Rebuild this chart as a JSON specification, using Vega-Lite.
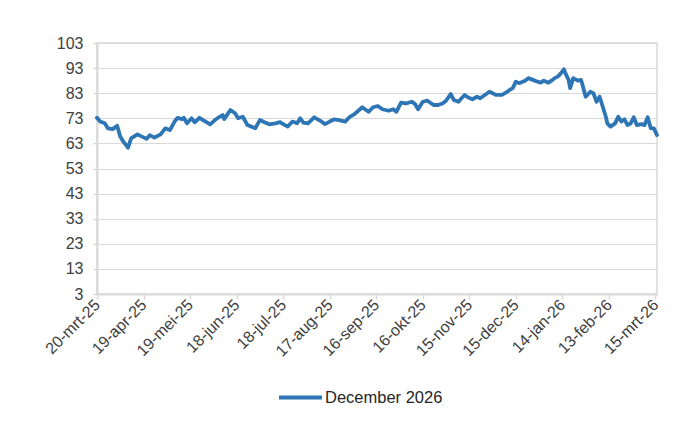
{
  "$schema": "https://vega.github.io/schema/vega-lite/v6.json",
  "autosize": {"type": "none"},
  "width": 560,
  "height": 251,
  "padding": {"left": 97, "top": 43, "right": 43, "bottom": 136},
  "background": "white",
  "config": {
    "font": "Liberation Sans",
    "view": {"stroke": "#d9d9d9", "strokeWidth": 1.5}
  },
  "data": {
    "values": [
      {"date": "2025-03-20", "value": 73.2},
      {"date": "2025-03-22", "value": 71.7},
      {"date": "2025-03-25", "value": 71.0},
      {"date": "2025-03-27", "value": 69.0},
      {"date": "2025-03-30", "value": 68.7},
      {"date": "2025-04-02", "value": 70.0},
      {"date": "2025-04-04", "value": 65.7},
      {"date": "2025-04-06", "value": 63.7},
      {"date": "2025-04-09", "value": 61.3},
      {"date": "2025-04-11", "value": 65.0},
      {"date": "2025-04-15", "value": 66.6},
      {"date": "2025-04-18", "value": 65.7},
      {"date": "2025-04-21", "value": 64.8},
      {"date": "2025-04-23", "value": 66.3},
      {"date": "2025-04-26", "value": 65.3},
      {"date": "2025-04-30", "value": 66.6},
      {"date": "2025-05-03", "value": 69.0},
      {"date": "2025-05-06", "value": 68.3},
      {"date": "2025-05-09", "value": 71.7},
      {"date": "2025-05-11", "value": 73.2},
      {"date": "2025-05-14", "value": 72.7},
      {"date": "2025-05-15", "value": 73.2},
      {"date": "2025-05-17", "value": 71.0},
      {"date": "2025-05-20", "value": 73.0},
      {"date": "2025-05-22", "value": 71.4},
      {"date": "2025-05-25", "value": 73.2},
      {"date": "2025-05-29", "value": 71.7},
      {"date": "2025-06-01", "value": 70.6},
      {"date": "2025-06-04", "value": 72.3},
      {"date": "2025-06-07", "value": 73.6},
      {"date": "2025-06-09", "value": 74.3},
      {"date": "2025-06-10", "value": 72.7},
      {"date": "2025-06-14", "value": 76.3},
      {"date": "2025-06-17", "value": 75.0},
      {"date": "2025-06-19", "value": 73.0},
      {"date": "2025-06-22", "value": 73.6},
      {"date": "2025-06-25", "value": 70.3},
      {"date": "2025-06-30", "value": 69.0},
      {"date": "2025-07-03", "value": 72.3},
      {"date": "2025-07-06", "value": 71.4},
      {"date": "2025-07-09", "value": 70.6},
      {"date": "2025-07-13", "value": 71.0},
      {"date": "2025-07-16", "value": 71.5},
      {"date": "2025-07-18", "value": 70.7},
      {"date": "2025-07-21", "value": 69.7},
      {"date": "2025-07-24", "value": 71.7},
      {"date": "2025-07-27", "value": 71.0},
      {"date": "2025-07-29", "value": 73.0},
      {"date": "2025-07-31", "value": 71.3},
      {"date": "2025-08-03", "value": 71.0},
      {"date": "2025-08-07", "value": 73.4},
      {"date": "2025-08-11", "value": 72.0},
      {"date": "2025-08-14", "value": 70.7},
      {"date": "2025-08-17", "value": 71.7},
      {"date": "2025-08-20", "value": 72.6},
      {"date": "2025-08-23", "value": 72.3},
      {"date": "2025-08-27", "value": 71.7},
      {"date": "2025-08-30", "value": 73.6},
      {"date": "2025-09-02", "value": 74.7},
      {"date": "2025-09-05", "value": 76.3},
      {"date": "2025-09-07", "value": 77.4},
      {"date": "2025-09-11", "value": 75.6},
      {"date": "2025-09-14", "value": 77.4},
      {"date": "2025-09-17", "value": 77.9},
      {"date": "2025-09-20", "value": 76.6},
      {"date": "2025-09-24", "value": 76.0},
      {"date": "2025-09-27", "value": 76.6},
      {"date": "2025-09-29", "value": 75.6},
      {"date": "2025-10-02", "value": 79.2},
      {"date": "2025-10-05", "value": 78.9},
      {"date": "2025-10-09", "value": 79.6},
      {"date": "2025-10-11", "value": 78.7},
      {"date": "2025-10-13", "value": 76.6},
      {"date": "2025-10-16", "value": 79.6},
      {"date": "2025-10-19", "value": 80.0},
      {"date": "2025-10-23", "value": 78.3},
      {"date": "2025-10-26", "value": 78.3},
      {"date": "2025-10-29", "value": 79.0},
      {"date": "2025-10-31", "value": 80.0},
      {"date": "2025-11-03", "value": 82.7},
      {"date": "2025-11-05", "value": 80.3},
      {"date": "2025-11-08", "value": 79.6},
      {"date": "2025-11-10", "value": 81.0},
      {"date": "2025-11-12", "value": 82.3},
      {"date": "2025-11-14", "value": 81.4},
      {"date": "2025-11-17", "value": 80.6},
      {"date": "2025-11-20", "value": 81.6},
      {"date": "2025-11-22", "value": 81.0},
      {"date": "2025-11-25", "value": 82.3},
      {"date": "2025-11-28", "value": 83.6},
      {"date": "2025-11-30", "value": 83.0},
      {"date": "2025-12-02", "value": 82.3},
      {"date": "2025-12-06", "value": 82.3},
      {"date": "2025-12-08", "value": 83.0},
      {"date": "2025-12-11", "value": 84.3},
      {"date": "2025-12-13", "value": 85.0},
      {"date": "2025-12-15", "value": 87.6},
      {"date": "2025-12-17", "value": 87.0},
      {"date": "2025-12-21", "value": 88.0},
      {"date": "2025-12-23", "value": 89.0},
      {"date": "2025-12-26", "value": 88.3},
      {"date": "2025-12-29", "value": 87.6},
      {"date": "2025-12-31", "value": 87.2},
      {"date": "2026-01-02", "value": 88.0},
      {"date": "2026-01-05", "value": 87.2},
      {"date": "2026-01-07", "value": 88.0},
      {"date": "2026-01-09", "value": 89.0},
      {"date": "2026-01-11", "value": 89.6},
      {"date": "2026-01-13", "value": 90.9},
      {"date": "2026-01-15", "value": 92.5},
      {"date": "2026-01-16", "value": 90.9},
      {"date": "2026-01-18", "value": 88.3},
      {"date": "2026-01-19", "value": 85.0},
      {"date": "2026-01-21", "value": 89.0},
      {"date": "2026-01-24", "value": 88.0},
      {"date": "2026-01-26", "value": 88.3},
      {"date": "2026-01-27", "value": 86.3},
      {"date": "2026-01-29", "value": 81.6},
      {"date": "2026-02-01", "value": 83.6},
      {"date": "2026-02-03", "value": 83.0},
      {"date": "2026-02-05", "value": 79.6},
      {"date": "2026-02-07", "value": 81.6},
      {"date": "2026-02-09", "value": 77.7},
      {"date": "2026-02-11", "value": 73.6},
      {"date": "2026-02-12", "value": 71.0},
      {"date": "2026-02-14", "value": 69.7},
      {"date": "2026-02-17", "value": 71.0},
      {"date": "2026-02-19", "value": 73.6},
      {"date": "2026-02-21", "value": 71.7},
      {"date": "2026-02-23", "value": 72.6},
      {"date": "2026-02-25", "value": 70.3},
      {"date": "2026-02-27", "value": 71.0},
      {"date": "2026-03-01", "value": 73.4},
      {"date": "2026-03-03", "value": 70.3},
      {"date": "2026-03-06", "value": 70.7},
      {"date": "2026-03-08", "value": 70.3},
      {"date": "2026-03-10", "value": 73.4},
      {"date": "2026-03-12", "value": 69.0},
      {"date": "2026-03-14", "value": 69.0},
      {"date": "2026-03-16", "value": 66.3}
    ]
  },
  "transform": [{"calculate": "'December 2026'", "as": "series"}],
  "mark": {"type": "line", "strokeWidth": 3.8, "strokeJoin": "round", "strokeCap": "round"},
  "encoding": {
    "x": {
      "field": "date",
      "type": "temporal",
      "scale": {
        "type": "utc",
        "domain": [
          {"year": 2025, "month": 3, "date": 20, "utc": true},
          {"year": 2026, "month": 3, "date": 16, "utc": true}
        ],
        "nice": false
      },
      "axis": {
        "title": null,
        "grid": false,
        "values": [
          {"year": 2025, "month": 3, "date": 20, "utc": true},
          {"year": 2025, "month": 4, "date": 19, "utc": true},
          {"year": 2025, "month": 5, "date": 19, "utc": true},
          {"year": 2025, "month": 6, "date": 18, "utc": true},
          {"year": 2025, "month": 7, "date": 18, "utc": true},
          {"year": 2025, "month": 8, "date": 17, "utc": true},
          {"year": 2025, "month": 9, "date": 16, "utc": true},
          {"year": 2025, "month": 10, "date": 16, "utc": true},
          {"year": 2025, "month": 11, "date": 15, "utc": true},
          {"year": 2025, "month": 12, "date": 15, "utc": true},
          {"year": 2026, "month": 1, "date": 14, "utc": true},
          {"year": 2026, "month": 2, "date": 13, "utc": true},
          {"year": 2026, "month": 3, "date": 15, "utc": true}
        ],
        "labelExpr": "utcFormat(datum.value, '%d') + '-' + ['jan','feb','mrt','apr','mei','jun','jul','aug','sep','okt','nov','dec'][utcmonth(datum.value)] + '-' + utcFormat(datum.value, '%y')",
        "labelAngle": -45,
        "labelAlign": "right",
        "labelBaseline": "middle",
        "labelFontSize": 16,
        "labelColor": "#404040",
        "labelPadding": 3,
        "labelOverlap": false,
        "labelFlush": false,
        "domainColor": "#d9d9d9",
        "domainWidth": 2,
        "tickColor": "#d9d9d9",
        "tickWidth": 1.5,
        "tickSize": 5
      }
    },
    "y": {
      "field": "value",
      "type": "quantitative",
      "scale": {"domain": [3, 103], "nice": false, "zero": false},
      "axis": {
        "title": null,
        "values": [3, 13, 23, 33, 43, 53, 63, 73, 83, 93, 103],
        "labelFontSize": 16,
        "labelColor": "#404040",
        "labelPadding": 10,
        "gridColor": "#d9d9d9",
        "gridWidth": 1,
        "domainColor": "#d9d9d9",
        "domainWidth": 2,
        "tickColor": "#d9d9d9",
        "tickWidth": 1.5,
        "tickSize": 4
      }
    },
    "color": {
      "field": "series",
      "type": "nominal",
      "scale": {"range": ["#2E75B6"]},
      "legend": {
        "title": null,
        "orient": "none",
        "legendX": 180,
        "legendY": 331,
        "symbolType": "stroke",
        "symbolSize": 1850,
        "symbolStrokeWidth": 3.8,
        "labelFontSize": 16.5,
        "labelColor": "#262626",
        "labelOffset": 1
      }
    }
  }
}
